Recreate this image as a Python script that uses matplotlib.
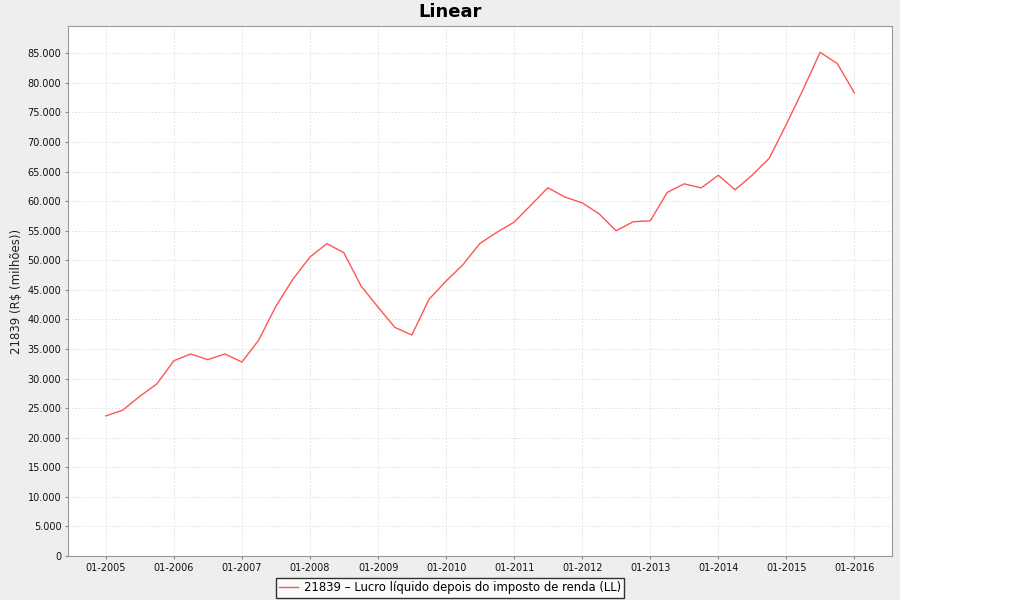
import matplotlib
matplotlib.use("Agg")
import matplotlib.pyplot as plt
import matplotlib.dates as mdates
from matplotlib.patches import Rectangle
from matplotlib.ticker import FuncFormatter, MultipleLocator
import pandas as pd

# quarterly values, 01-2005 .. 01-2016 (R$ milhões)
dates = pd.date_range("2005-01-01", "2016-01-01", freq="QS")
values = [
    23690, 24660, 26990, 29090,
    33030, 34160, 33200, 34160,
    32800, 36500, 42160, 46780,
    50560, 52810, 51290, 45670,
    42050, 38650, 37360, 43410,
    46500, 49250, 52850, 54750,
    56460, 59330, 62270, 60680,
    59720, 57860, 55000, 56520,
    56690, 61470, 62930, 62250,
    64380, 61920, 64380, 67250,
    73010, 78890, 85170, 83280,
    78330,
]
series_label = "21839 \u2013 Lucro líquido depois do imposto de renda (LL)"
y_label = "21839 (R$ (milhões))"
title = "Linear"

W, H = 1018, 600
fig = plt.figure(figsize=(W / 100, H / 100), dpi=100, facecolor="white")
# gray chart panel (the right strip stays white)
fig.patches.append(Rectangle((0, 0), 900 / W, 1, transform=fig.transFigure,
                             facecolor="#eeeeee", edgecolor="none", zorder=-10))

ax = fig.add_axes([68.3 / W, (H - 556) / H, (892 - 68.3) / W, (556 - 26.3) / H])
ax.set_facecolor("white")

ax.plot(dates, values, color="#ff5555", lw=1.0, label=series_label)

ax.set_ylim(0, 89570)
ax.set_xlim(dates[0] - pd.Timedelta(days=202), dates[-1] + pd.Timedelta(days=202))

ax.yaxis.set_major_locator(MultipleLocator(5000))
ax.yaxis.set_major_formatter(FuncFormatter(lambda v, p: f"{int(v):,}".replace(",", ".")))
ax.xaxis.set_major_locator(mdates.YearLocator(1, month=1, day=1))
ax.xaxis.set_major_formatter(mdates.DateFormatter("%m-%Y"))

ax.grid(True, color="#dddddd", lw=0.6, ls=(0, (2, 2)))
ax.set_axisbelow(True)
for s in ax.spines.values():
    s.set_color("#999999")
ax.tick_params(axis="both", colors="#888888", labelcolor="#111111",
               labelsize=7, length=2, width=0.8, pad=3)

ax.set_ylabel(y_label, fontsize=8.5, color="#222222", labelpad=3)

fig.text(450 / W, 1 - 12 / H, title, ha="center", va="center",
         fontsize=13, fontweight="bold")

leg = fig.legend(loc="center", bbox_to_anchor=(450 / W, 1 - 588 / H),
                 fontsize=8.4, frameon=True, fancybox=False, handlelength=1.6,
                 borderpad=0.3, handletextpad=0.5, borderaxespad=0)
leg.get_frame().set_edgecolor("black")
leg.get_frame().set_linewidth(1.0)

fig.savefig("out.png", dpi=100, facecolor=fig.get_facecolor())
